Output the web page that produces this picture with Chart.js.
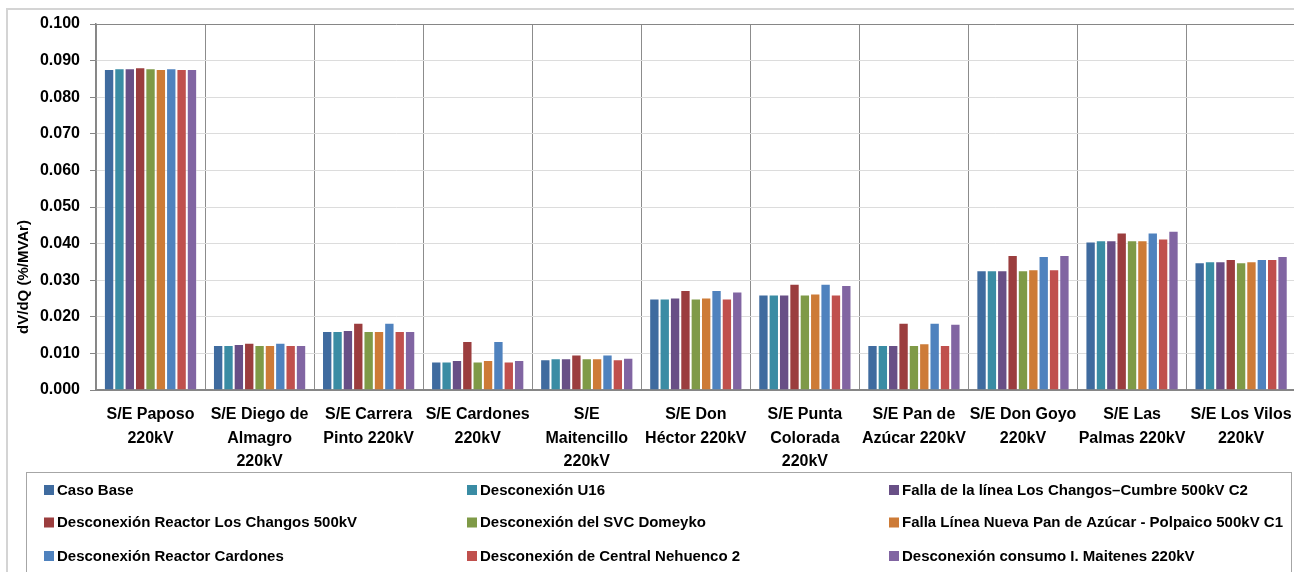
<!DOCTYPE html>
<html>
<head>
<meta charset="utf-8">
<script src="https://cdn.jsdelivr.net/npm/chart.js@4/dist/chart.umd.min.js"></script>
<style>
  body { margin: 0; background: #fff; overflow: hidden; }
  #wrap { width: 1305px; height: 572px; }
</style>
</head>
<body>
<div id="wrap"><canvas id="sens" width="1305" height="572"></canvas></div>
<script>
// categories (bus names, already split in lines as in the original)
var categories = [
  ["S/E Paposo", "220kV"],
  ["S/E Diego de", "Almagro", "220kV"],
  ["S/E Carrera", "Pinto 220kV"],
  ["S/E Cardones", "220kV"],
  ["S/E", "Maitencillo", "220kV"],
  ["S/E Don", "Héctor 220kV"],
  ["S/E Punta", "Colorada", "220kV"],
  ["S/E Pan de", "Azúcar 220kV"],
  ["S/E Don Goyo", "220kV"],
  ["S/E Las", "Palmas 220kV"],
  ["S/E Los Vilos", "220kV"]
];

// dV/dQ values (%/MVAr), one array per contingency
var casoBase        = [0.0877, 0.0123, 0.0161, 0.0078, 0.0084, 0.0250, 0.0261, 0.0123, 0.0327, 0.0406, 0.0349];
var descU16         = [0.0879, 0.0123, 0.0161, 0.0078, 0.0087, 0.0250, 0.0261, 0.0123, 0.0327, 0.0409, 0.0352];
var fallaChangos    = [0.0879, 0.0126, 0.0164, 0.0082, 0.0087, 0.0253, 0.0261, 0.0123, 0.0327, 0.0409, 0.0352];
var reactorChangos  = [0.0882, 0.0129, 0.0184, 0.0134, 0.0097, 0.0273, 0.0290, 0.0184, 0.0369, 0.0430, 0.0358];
var svcDomeyko      = [0.0879, 0.0123, 0.0161, 0.0078, 0.0087, 0.0250, 0.0261, 0.0123, 0.0327, 0.0409, 0.0349];
var fallaPolpaico   = [0.0877, 0.0123, 0.0161, 0.0082, 0.0087, 0.0253, 0.0264, 0.0128, 0.0330, 0.0409, 0.0352];
var reactorCardones = [0.0879, 0.0129, 0.0184, 0.0134, 0.0097, 0.0273, 0.0290, 0.0184, 0.0366, 0.0430, 0.0358];
var nehuenco2       = [0.0877, 0.0123, 0.0161, 0.0078, 0.0084, 0.0250, 0.0261, 0.0123, 0.0330, 0.0414, 0.0358];
var maitenes        = [0.0877, 0.0123, 0.0161, 0.0082, 0.0088, 0.0269, 0.0287, 0.0181, 0.0369, 0.0435, 0.0366];

var seriesNames = [
  "Caso Base",
  "Desconexión U16",
  "Falla de la línea Los Changos–Cumbre 500kV C2",
  "Desconexión Reactor Los Changos 500kV",
  "Desconexión del SVC Domeyko",
  "Falla Línea Nueva Pan de Azúcar - Polpaico 500kV C1",
  "Desconexión Reactor Cardones",
  "Desconexión de Central Nehuenco 2",
  "Desconexión consumo I. Maitenes 220kV"
];
var seriesValues = [casoBase, descU16, fallaChangos, reactorChangos, svcDomeyko,
                    fallaPolpaico, reactorCardones, nehuenco2, maitenes];
var colors = ["#3F6B9F", "#3A8CA4", "#684F86", "#9B3D3E", "#7F9A47",
              "#CD7B37", "#4F82BE", "#C0504D", "#8165A2"];

var yMin = 0, yMax = 0.1, yStep = 0.01;

var FONT = "'Liberation Sans', Arial, sans-serif";

var datasets = seriesNames.map(function (name, i) {
  return {
    label: name,
    data: seriesValues[i],
    backgroundColor: colors[i],
    borderColor: "rgba(255,255,255,0.3)",
    borderWidth: 1,
    categoryPercentage: 0.855,
    barPercentage: 1.0
  };
});

// frame, rotated axis title and a 3-column legend like the Excel one
var excelBits = {
  id: "excelBits",
  beforeDraw: function (chart) {
    var ctx = chart.ctx;
    ctx.save();
    ctx.strokeStyle = "#d4d4d4";
    ctx.lineWidth = 2;
    ctx.strokeRect(7, 9, 1320, 600);
    ctx.restore();
  },
  afterDraw: function (chart) {
    var ctx = chart.ctx;
    ctx.save();
    // y axis title
    ctx.translate(24, 277);
    ctx.rotate(-Math.PI / 2);
    ctx.font = "bold 15px " + FONT;
    ctx.fillStyle = "#000";
    ctx.textAlign = "center";
    ctx.textBaseline = "middle";
    ctx.fillText("dV/dQ (%/MVAr)", 0, 0);
    ctx.restore();

    // legend box
    ctx.save();
    ctx.strokeStyle = "#a6a6a6";
    ctx.lineWidth = 1;
    ctx.strokeRect(26.5, 472.5, 1265, 140);
    var colX = [44, 467, 889];
    var rowY = [490, 522.5, 556];
    ctx.font = "bold 15px " + FONT;
    ctx.textBaseline = "middle";
    chart.data.datasets.forEach(function (ds, i) {
      var x = colX[i % 3], y = rowY[Math.floor(i / 3)];
      ctx.fillStyle = ds.backgroundColor;
      ctx.fillRect(x, y - 5, 10, 10);
      ctx.fillStyle = "#000";
      ctx.fillText(ds.label, x + 13, y + 0.5);
    });
    ctx.restore();
  }
};

new Chart(document.getElementById("sens"), {
  type: 'bar',
  data: {
    labels: categories,
    datasets: datasets
  },
  plugins: [excelBits],
  options: {
    responsive: false,
    animation: false,
    layout: { padding: { top: 24, left: 0, right: 8, bottom: 0 } },
    plugins: {
      legend: { display: false },
      title: { display: false },
      tooltip: { enabled: false }
    },
    scales: {
      x: {
        afterFit: function (scale) { scale.height = 182; },
        grid: { color: "#8c8c8c", lineWidth: 1, drawTicks: false },
        border: { color: "#868686", width: 2 },
        ticks: {
          color: "#000",
          padding: 13,
          maxRotation: 0,
          autoSkip: false,
          font: { family: FONT, size: 16, weight: "bold", lineHeight: 1.47 }
        }
      },
      y: {
        min: yMin,
        max: yMax,
        afterFit: function (scale) { scale.width = 96; },
        grid: {
          color: function (c) {
            return (c.tick && Math.abs(c.tick.value - yMax) < 1e-9) ? "#868686" : "#dcdcdc";
          },
          lineWidth: 1,
          tickLength: 6,
          tickColor: "#868686"
        },
        border: { color: "#868686", width: 1.5 },
        ticks: {
          stepSize: yStep,
          color: "#000",
          padding: 10,
          font: { family: FONT, size: 16, weight: "bold" },
          callback: function (v) { return v.toFixed(3); }
        }
      }
    }
  }
});
</script>
</body>
</html>
